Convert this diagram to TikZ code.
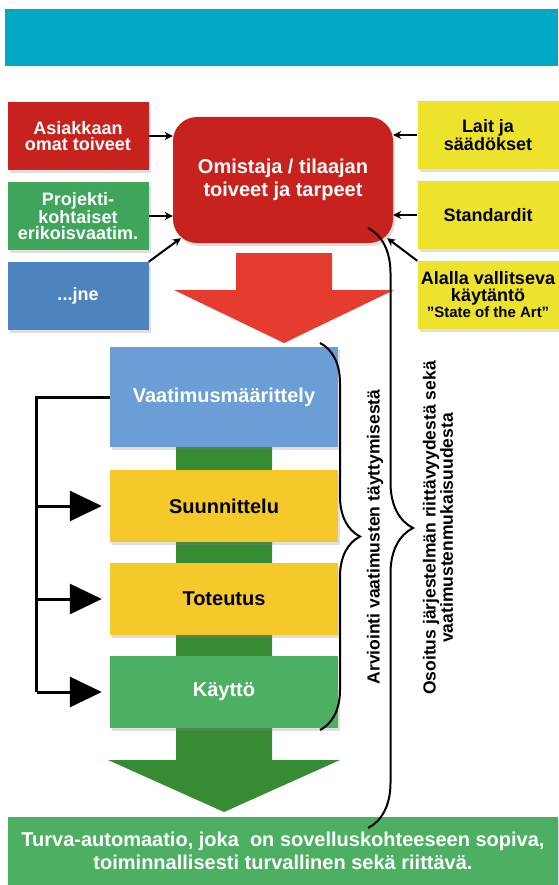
\documentclass[tikz,border=0pt]{standalone}
\usepackage{fontspec}
\setmainfont{Liberation Sans}
\usetikzlibrary{arrows.meta,positioning,calc,shadows,decorations.pathreplacing}
\definecolor{myteal}{HTML}{00A8C3}
\definecolor{myred}{HTML}{C8221E}
\definecolor{myarrowred}{HTML}{E63C30}
\definecolor{mygreen}{HTML}{3EA55A}
\definecolor{mylightgreen}{HTML}{4CAF62}
\definecolor{mydarkgreen}{HTML}{378C33}
\definecolor{myblue}{HTML}{4D84C0}
\definecolor{mylightblue}{HTML}{6B9ED6}
\definecolor{myyellow}{HTML}{EEE32C}
\definecolor{mygold}{HTML}{F6C92A}
\tikzset{
  box/.style={rectangle, align=center, inner sep=2pt, font=\bfseries\fontsize{18}{16.5}\selectfont,
              drop shadow={opacity=0.25, shadow xshift=2pt, shadow yshift=-3pt}},
  sidebox/.style={box, minimum width=141pt, minimum height=68pt},
  redbox/.style={sidebox, fill=myred, text=white},
  greenbox/.style={sidebox, fill=mygreen, text=white},
  bluebox/.style={sidebox, fill=myblue, text=white},
  yellowbox/.style={sidebox, fill=myyellow, text=black},
  stagebox/.style={box, minimum width=228pt, minimum height=72pt, font=\bfseries\fontsize{20}{23}\selectfont},
  arr/.style={-{Stealth[length=8pt, width=8pt]}, line width=2pt},
  fbline/.style={line width=3pt},
  fbarr/.style={-{Triangle[length=32pt, width=30pt]}, line width=3pt, shorten >=8pt},
  bracelab/.style={rotate=90, align=center, font=\bfseries\fontsize{17.5}{16}\selectfont},
  bigbrace/.style={decorate, decoration={brace, amplitude=#1}, line width=2pt},
}

\begin{document}
\begin{tikzpicture}[x=1pt, y=-1pt]
  \useasboundingbox (0,0) rectangle (558,885);
  % header bar
  \fill[myteal] (5,9) rectangle (558,66);

  % inputs
  \node[redbox] (asiakas) at (78,136) {Asiakkaan\\omat toiveet};
  \node[greenbox] (projekti) at (78,216) {Projekti-\\kohtaiset\\erikoisvaatim.};
  \node[bluebox] (jne) at (78,296) {...jne};
  \node[yellowbox] (lait) at (488,135) {Lait ja\\säädökset};
  \node[yellowbox] (standardit) at (488,215) {Standardit};
  \node[yellowbox] (alalla) at (488,295) {Alalla vallitseva\\käytäntö\\{\fontsize{15}{14}\selectfont ”State of the Art”}};

  \node[redbox, minimum width=220pt, minimum height=126pt, rounded corners=24pt,
        font=\bfseries\fontsize{20}{23}\selectfont] (omistaja) at (283,180) {Omistaja / tilaajan\\toiveet ja tarpeet};

  % big arrows
  \fill[myarrowred] (236,253) -- (332,253) -- (332,290) -- (394,290) -- (284,343) -- (174,290) -- (236,290) -- cycle;
  \fill[mydarkgreen] (176,440) -- (272,440) -- (272,760) -- (340,760) -- (224,812) -- (108,760) -- (176,760) -- cycle;

  % life cycle
  \node[stagebox, fill=mylightblue, text=white, minimum height=100pt] (vaatimus) at (224,397) {Vaatimusmäärittely};
  \node[stagebox, fill=mygold] (suunnittelu) at (224,506) {Suunnittelu};
  \node[stagebox, fill=mygold] (toteutus) at (224,599) {Toteutus};
  \node[stagebox, fill=mylightgreen, text=white] (kaytto) at (224,692) {Käyttö};

  \node[box, fill=mylightgreen, text=white, minimum width=550pt, minimum height=68pt,
        font=\bfseries\fontsize{20}{23}\selectfont] (tulos) at (283,851)
        {Turva-automaatio, joka~ on sovelluskohteeseen sopiva,\\toiminnallisesti turvallinen sekä riittävä.};

  % arrows into the owner box
  \coordinate (omsw) at ($(omistaja.south west)+(8,-5)$);
  \coordinate (omse) at ($(omistaja.south east)+(-6,-5)$);
  \draw[arr] (asiakas.east) -- (asiakas.east -| omistaja.west);
  \draw[arr] (projekti.east) -- (projekti.east -| omistaja.west);
  \draw[arr] (jne.north east) -- (omsw);
  \draw[arr] (lait.west) -- (lait.west -| omistaja.east);
  \draw[arr] (standardit.west) -- (standardit.west -| omistaja.east);
  \draw[arr] (alalla.north west) -- (omse);

  % feedback
  \coordinate (fbtop) at ($(vaatimus.west)+(-73,0)$);
  \draw[fbline] (vaatimus.west) -- (fbtop) -- (fbtop |- kaytto.west);
  \draw[fbarr] (fbtop |- suunnittelu.west) -- (suunnittelu.west);
  \draw[fbarr] (fbtop |- toteutus.west) -- (toteutus.west);
  \draw[fbarr] (fbtop |- kaytto.west) -- (kaytto.west);

  % braces
  \draw[bigbrace=40] (320,343) -- (320,730);
  \draw[bigbrace=45] (368,228) -- (368,828);
  \node[bracelab] (arvio) at (375,537) {Arviointi vaatimusten täyttymisestä};
  \node[bracelab] (osoitus) at (438,528) {Osoitus järjestelmän riittävyydestä sekä\\vaatimustenmukaisuudesta};
\end{tikzpicture}
\end{document}
